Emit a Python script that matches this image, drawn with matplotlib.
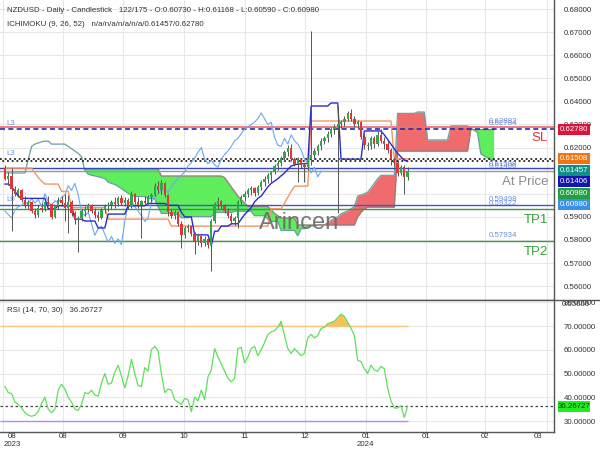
import matplotlib.pyplot as plt
import numpy as np
from matplotlib.patches import Rectangle
from matplotlib.lines import Line2D
from matplotlib.transforms import blended_transform_factory

plt.rcParams['font.family'] = ['Liberation Sans', 'DejaVu Sans']

# NZDUSD daily candles, bar 0 .. 121 (early Aug 2023 -> mid Jan 2024)
opens = [
    0.6110, 0.6065, 0.6075, 0.6020, 0.6000, 0.6015, 0.5975, 0.5950, 0.5965, 0.5925,
    0.5910, 0.5940, 0.5935, 0.5965, 0.5955, 0.5900, 0.5945, 0.5975, 0.5960, 0.5940,
    0.5965, 0.5915, 0.5885, 0.5895, 0.5925, 0.5935, 0.5950, 0.5925, 0.5910, 0.5895,
    0.5930, 0.5945, 0.5950, 0.5965, 0.5955, 0.5980, 0.5960, 0.5975, 0.5945, 0.6000,
    0.5965, 0.5950, 0.5970, 0.5960, 0.5985, 0.5995, 0.6035, 0.6015, 0.6045, 0.5995,
    0.5920, 0.5905, 0.5920, 0.5870, 0.5820, 0.5850, 0.5860, 0.5825, 0.5790, 0.5815,
    0.5785, 0.5805, 0.5780, 0.5880, 0.5955, 0.5970, 0.5945, 0.5925, 0.5905, 0.5880,
    0.5895, 0.5965, 0.5985, 0.6000, 0.6015, 0.6025, 0.6005, 0.6030, 0.6050, 0.6065,
    0.6080, 0.6095, 0.6120, 0.6135, 0.6155, 0.6180, 0.6200, 0.6150, 0.6130, 0.6145,
    0.6125, 0.6115, 0.6150, 0.6170, 0.6185, 0.6205, 0.6230, 0.6240, 0.6260, 0.6280,
    0.6290, 0.6300, 0.6310, 0.6325, 0.6350, 0.6325, 0.6300, 0.6310, 0.6245, 0.6210,
    0.6205, 0.6240, 0.6215, 0.6255, 0.6230, 0.6215, 0.6190, 0.6150, 0.6135, 0.6090,
    0.6115, 0.6073,
]
highs = [
    0.6125, 0.6095, 0.6110, 0.6035, 0.6025, 0.6020, 0.5990, 0.5975, 0.5970, 0.5940,
    0.5950, 0.5960, 0.5975, 0.5990, 0.5960, 0.5950, 0.5985, 0.5990, 0.6000, 0.5995,
    0.5975, 0.5925, 0.5905, 0.5935, 0.5945, 0.5960, 0.5955, 0.5940, 0.5925, 0.5940,
    0.5955, 0.5965, 0.5975, 0.5985, 0.5990, 0.5995, 0.5985, 0.5980, 0.6010, 0.6005,
    0.5985, 0.5975, 0.5990, 0.5995, 0.6005, 0.6045, 0.6055, 0.6060, 0.6050, 0.6000,
    0.5935, 0.5930, 0.5925, 0.5880, 0.5860, 0.5870, 0.5865, 0.5835, 0.5825, 0.5820,
    0.5815, 0.5810, 0.5890, 0.5965, 0.5985, 0.5975, 0.5955, 0.5940, 0.5915, 0.5905,
    0.5975, 0.5995, 0.6010, 0.6025, 0.6035, 0.6030, 0.6040, 0.6060, 0.6075, 0.6090,
    0.6100, 0.6130, 0.6145, 0.6165, 0.6190, 0.6210, 0.6215, 0.6160, 0.6160, 0.6155,
    0.6135, 0.6160, 0.6705, 0.6200, 0.6215, 0.6240, 0.6250, 0.6270, 0.6290, 0.6300,
    0.6380, 0.6320, 0.6335, 0.6360, 0.6367, 0.6335, 0.6320, 0.6315, 0.6260, 0.6225,
    0.6250, 0.6250, 0.6270, 0.6281, 0.6245, 0.6230, 0.6200, 0.6160, 0.6145, 0.6125,
    0.6125, 0.6117,
]
lows = [
    0.6060, 0.6040, 0.5840, 0.5990, 0.5985, 0.5965, 0.5940, 0.5935, 0.5915, 0.5895,
    0.5900, 0.5920, 0.5925, 0.5945, 0.5890, 0.5895, 0.5935, 0.5950, 0.5880, 0.5830,
    0.5905, 0.5870, 0.5750, 0.5880, 0.5905, 0.5920, 0.5915, 0.5895, 0.5880, 0.5890,
    0.5915, 0.5925, 0.5935, 0.5940, 0.5945, 0.5950, 0.5945, 0.5935, 0.5940, 0.5955,
    0.5940, 0.5810, 0.5955, 0.5955, 0.5965, 0.5990, 0.6005, 0.6000, 0.5985, 0.5905,
    0.5895, 0.5890, 0.5860, 0.5765, 0.5810, 0.5835, 0.5815, 0.5740, 0.5780, 0.5770,
    0.5775, 0.5765, 0.5665, 0.5875, 0.5935, 0.5935, 0.5915, 0.5895, 0.5870, 0.5865,
    0.5851, 0.5955, 0.5970, 0.5985, 0.5995, 0.5990, 0.5995, 0.6015, 0.6035, 0.6045,
    0.6050, 0.6085, 0.6105, 0.6120, 0.6140, 0.6165, 0.6140, 0.6120, 0.6050, 0.6110,
    0.6050, 0.6105, 0.6125, 0.6150, 0.6170, 0.6190, 0.6215, 0.6225, 0.6245, 0.6260,
    0.5917, 0.6285, 0.6295, 0.6315, 0.6315, 0.6290, 0.6285, 0.6235, 0.6195, 0.6190,
    0.6195, 0.6200, 0.6205, 0.6220, 0.6195, 0.6175, 0.6125, 0.6120, 0.6075, 0.6080,
    0.6000, 0.6059,
]
closes = [
    0.6065, 0.6075, 0.6020, 0.6000, 0.6015, 0.5975, 0.5950, 0.5965, 0.5925, 0.5910,
    0.5940, 0.5935, 0.5965, 0.5955, 0.5900, 0.5945, 0.5975, 0.5960, 0.5940, 0.5965,
    0.5915, 0.5885, 0.5895, 0.5925, 0.5935, 0.5950, 0.5925, 0.5910, 0.5895, 0.5930,
    0.5945, 0.5950, 0.5965, 0.5955, 0.5980, 0.5960, 0.5975, 0.5945, 0.6000, 0.5965,
    0.5950, 0.5970, 0.5960, 0.5985, 0.5995, 0.6035, 0.6015, 0.6045, 0.5995, 0.5920,
    0.5905, 0.5920, 0.5870, 0.5820, 0.5850, 0.5860, 0.5825, 0.5790, 0.5815, 0.5785,
    0.5805, 0.5780, 0.5880, 0.5955, 0.5970, 0.5945, 0.5925, 0.5905, 0.5880, 0.5895,
    0.5965, 0.5985, 0.6000, 0.6015, 0.6025, 0.6005, 0.6030, 0.6050, 0.6065, 0.6080,
    0.6095, 0.6120, 0.6135, 0.6155, 0.6180, 0.6200, 0.6150, 0.6130, 0.6145, 0.6125,
    0.6115, 0.6150, 0.6170, 0.6185, 0.6205, 0.6230, 0.6240, 0.6260, 0.6280, 0.6290,
    0.6300, 0.6310, 0.6325, 0.6350, 0.6325, 0.6300, 0.6310, 0.6245, 0.6210, 0.6205,
    0.6240, 0.6215, 0.6255, 0.6230, 0.6215, 0.6190, 0.6150, 0.6135, 0.6090, 0.6115,
    0.6073, 0.6098,
]

# Ichimoku (9, 26, 52) as drawn on the chart
tenkan = [
    0.6042, 0.6042, 0.6030, 0.6010, 0.5990, 0.5980, 0.5980, 0.5980, 0.5980, 0.5980,
    0.5980, 0.5980, 0.5980, 0.5935, 0.5935, 0.5935, 0.5948, 0.5948, 0.5948, 0.5948,
    0.5948, 0.5890, 0.5890, 0.5890, 0.5882, 0.5882, 0.5882, 0.5882, 0.5852, 0.5852,
    0.5852, 0.5912, 0.5912, 0.5912, 0.5912, 0.5912, 0.5912, 0.5948, 0.5948, 0.5948,
    0.5948, 0.5948, 0.5948, 0.5958, 0.5958, 0.5958, 0.5958, 0.5958, 0.5958, 0.5950,
    0.5950, 0.5950, 0.5950, 0.5920, 0.5900, 0.5900, 0.5900, 0.5822, 0.5822, 0.5822,
    0.5822, 0.5822, 0.5775, 0.5838, 0.5838, 0.5860, 0.5860, 0.5860, 0.5870, 0.5870,
    0.5870, 0.5890, 0.5910, 0.5925, 0.5940, 0.5965, 0.5980, 0.5990, 0.6010, 0.6030,
    0.6045, 0.6055, 0.6065, 0.6078, 0.6090, 0.6105, 0.6120, 0.6125, 0.6128, 0.6130,
    0.6130, 0.6132, 0.6380, 0.6380, 0.6380, 0.6380, 0.6380, 0.6380, 0.6393, 0.6393,
    0.6393, 0.6150, 0.6150, 0.6150, 0.6150, 0.6150, 0.6150, 0.6150, 0.6272, 0.6272,
    0.6272, 0.6272, 0.6272, 0.6272, 0.6255, 0.6235, 0.6215, 0.6195, 0.6175, 0.6160,
    0.6145, 0.61406,
]
kijun = [
    0.6111, 0.6111, 0.6111, 0.6111, 0.6111, 0.6111, 0.6111, 0.6111, 0.6111, 0.6090,
    0.6070, 0.6055, 0.6042, 0.6042, 0.6042, 0.6042, 0.6042, 0.6010, 0.6010, 0.6010,
    0.5940, 0.5940, 0.5940, 0.5940, 0.5940, 0.5940, 0.5940, 0.5940, 0.5940, 0.5940,
    0.5940, 0.5890, 0.5890, 0.5890, 0.5890, 0.5890, 0.5890, 0.5890, 0.5890, 0.5890,
    0.5890, 0.5890, 0.5890, 0.5890, 0.5890, 0.5890, 0.5890, 0.5890, 0.5890, 0.5890,
    0.5860, 0.5860, 0.5860, 0.5860, 0.5860, 0.5860, 0.5860, 0.5860, 0.5860, 0.5860,
    0.5860, 0.5860, 0.5860, 0.5860, 0.5860, 0.5860, 0.5860, 0.5860, 0.5860, 0.5860,
    0.5860, 0.5860, 0.5860, 0.5860, 0.5860, 0.5860, 0.5860, 0.5860, 0.5860, 0.5860,
    0.5935, 0.5935, 0.5935, 0.5935, 0.5960, 0.5985, 0.6010, 0.6033, 0.6033, 0.6033,
    0.6033, 0.6033, 0.6315, 0.6315, 0.6315, 0.6315, 0.6315, 0.6315, 0.6315, 0.6315,
    0.6315, 0.6315, 0.6315, 0.6315, 0.6315, 0.6315, 0.6315, 0.6315, 0.6315, 0.6315,
    0.6315, 0.6315, 0.6315, 0.6315, 0.6315, 0.6315, 0.6315, 0.6151, 0.6151, 0.6151,
    0.6151, 0.61508,
]
# leading spans run 26 bars past the last candle (bars 0 .. 147)
senkou_a = [
    0.6090, 0.6090, 0.6090, 0.6090, 0.6090, 0.6090, 0.6090, 0.6150, 0.6205, 0.6215,
    0.6220, 0.6225, 0.6228, 0.6228, 0.6215, 0.6215, 0.6215, 0.6215, 0.6215, 0.6205,
    0.6195, 0.6185, 0.6175, 0.6160, 0.6100, 0.6085, 0.6080, 0.6077, 0.6074, 0.6070,
    0.6066, 0.6050, 0.6045, 0.6040, 0.6032, 0.6022, 0.6012, 0.6002, 0.5995, 0.5988,
    0.5988, 0.5988, 0.5988, 0.5979, 0.5979, 0.5979, 0.5944, 0.5915, 0.5915, 0.5915,
    0.5915, 0.5911, 0.5911, 0.5896, 0.5896, 0.5896, 0.5901, 0.5901, 0.5901, 0.5901,
    0.5901, 0.5901, 0.5901, 0.5919, 0.5919, 0.5919, 0.5919, 0.5919, 0.5919, 0.5924,
    0.5924, 0.5924, 0.5924, 0.5924, 0.5924, 0.5905, 0.5905, 0.5905, 0.5905, 0.5890,
    0.5880, 0.5880, 0.5880, 0.5841, 0.5841, 0.5841, 0.5841, 0.5841, 0.5818, 0.5849,
    0.5849, 0.5860, 0.5860, 0.5860, 0.5865, 0.5865, 0.5865, 0.5875, 0.5885, 0.5893,
    0.5900, 0.5913, 0.5920, 0.5925, 0.5935, 0.5945, 0.5990, 0.5995, 0.6000, 0.6007,
    0.6025, 0.6045, 0.6065, 0.6080, 0.6080, 0.6080, 0.6080, 0.6080, 0.6348, 0.6348,
    0.6348, 0.6348, 0.6348, 0.6348, 0.6354, 0.6354, 0.6354, 0.6233, 0.6233, 0.6233,
    0.6233, 0.6233, 0.6233, 0.6233, 0.6294, 0.6294, 0.6294, 0.6294, 0.6294, 0.6294,
    0.6285, 0.6275, 0.6265, 0.6173, 0.6163, 0.6156, 0.6148, 0.61457,
]
senkou_b_start = 24
senkou_b = [
    0.6108, 0.6108, 0.6108, 0.6108, 0.6108, 0.6108, 0.6108, 0.6108, 0.6108, 0.6108,
    0.6108, 0.6108, 0.6108, 0.6108, 0.6108, 0.6108, 0.6108, 0.6108, 0.6108, 0.6108,
    0.6108, 0.6108, 0.6108, 0.6077, 0.6077, 0.6077, 0.6077, 0.6077, 0.6077, 0.6077,
    0.6077, 0.6077, 0.6077, 0.6077, 0.6077, 0.6077, 0.6077, 0.6077, 0.6077, 0.6077,
    0.6077, 0.6077, 0.6070, 0.6050, 0.6030, 0.6010, 0.5990, 0.5975, 0.5960, 0.5945,
    0.5945, 0.5945, 0.5945, 0.5945, 0.5945, 0.5945, 0.5930, 0.5915, 0.5905, 0.5895,
    0.5895, 0.5895, 0.5895, 0.5895, 0.5865, 0.5865, 0.5865, 0.5865, 0.5865, 0.5865,
    0.5865, 0.5865, 0.5865, 0.5865, 0.5865, 0.5865, 0.5865, 0.5865, 0.5865, 0.5865,
    0.5865, 0.5865, 0.5900, 0.5920, 0.5935, 0.5942, 0.5942, 0.5942, 0.5942, 0.5942,
    0.5942, 0.5942, 0.5942, 0.5942, 0.6185, 0.6185, 0.6185, 0.6185, 0.6185, 0.6185,
    0.6185, 0.6185, 0.6185, 0.6185, 0.6185, 0.6185, 0.6185, 0.6185, 0.6185, 0.6185,
    0.6185, 0.6185, 0.6185, 0.6185, 0.6185, 0.6185, 0.6278, 0.6278, 0.6278, 0.6278,
    0.6278, 0.6278, 0.6278, 0.6278,
]
chikou_shift = 26

# RSI (14, 70, 30)
rsi = [
    44.5, 42.0, 41.5, 38.0, 37.0, 35.5, 33.5, 32.5, 32.0, 32.5,
    34.0, 37.5, 40.0, 35.0, 33.5, 35.0, 43.0, 45.5, 43.5, 40.0,
    38.0, 35.0, 34.5, 37.0, 42.0, 41.5, 43.0, 41.0, 40.5, 46.0,
    50.0, 45.5, 46.0, 50.5, 53.5, 49.0, 44.0, 49.0, 56.0, 50.0,
    45.0, 44.5, 52.5, 51.0, 60.0, 61.5, 59.5, 50.0, 42.0, 43.5,
    43.0, 39.0, 38.0, 37.0, 39.5, 39.0, 34.0, 40.0, 38.5, 43.0,
    39.0, 48.5, 51.5, 60.5, 57.0, 54.0, 51.0, 48.0, 46.5, 48.0,
    60.5, 61.0, 54.5, 57.0, 60.5, 61.5, 57.5, 60.0, 63.0, 66.5,
    67.5, 68.0, 69.5, 72.0, 66.0, 60.5, 58.5, 60.5, 59.0, 57.5,
    58.5, 65.0, 66.5, 65.0, 66.0, 69.0, 69.5, 71.0, 71.5, 72.0,
    73.5, 75.0, 74.0, 71.5, 69.0, 66.0, 55.5, 55.0, 52.0, 50.0,
    53.5, 51.5, 51.0, 53.0, 52.0, 44.0, 38.5, 35.5, 35.5, 36.5,
    31.5, 36.26727,
]
rsi_upper, rsi_lower = 70, 30
rsi_last = 36.26727

# horizontal trade levels
sl_level = 0.62882
l3_level = 0.62784
kijun_last, tenkan_last = 0.61508, 0.61406
l2_level = 0.6110
price_last = 0.60980
l0_level = 0.59498
tp1_level = 0.59322
tp2_level = 0.57934

box_values = [0.62780, 0.61508, 0.61457, 0.61406, 0.60980, 0.60980]
box_colors = ['#dc143c', '#ef7412', '#0f8f88', '#1414b4', '#22a045', '#3c8fe6']

tick_pos = [-0.6, 17.4, 35.4, 53.8, 72.1, 90.1, 108.4, 126.4, 144.4, 162.8]
tick_text = ['08', '08', '09', '10', '11', '12', '01', '01', '02', '03']
label_pos = [2.1, 17.4, 35.4, 53.8, 72.1, 90.1, 108.4, 126.4, 144.4, 160.1]
year_text = {0: '2023', 6: '2024'}

W, H = 600, 450
fig = plt.figure(figsize=(6, 4.5), dpi=100)
ax = fig.add_axes([0, 150 / H, 554 / W, 300 / H])
ax_rsi = fig.add_axes([0, 18 / H, 554 / W, 132 / H])

fs = 5.7
grid_col = '#e8e8e8'
txt_col = '#333333'

for a in (ax, ax_rsi):
    a.set_xlim(-1.5, 165)
    a.set_xticks(tick_pos)
    a.tick_params(axis='x', length=0, labelbottom=False)
    a.yaxis.tick_right()
    a.tick_params(axis='y', length=0, pad=7, labelsize=fs, labelcolor=txt_col)
    a.grid(color=grid_col, lw=0.8)
    a.set_axisbelow(True)
    for s in ('top', 'left'):
        a.spines[s].set_visible(False)
    for s in ('right', 'bottom'):
        a.spines[s].set_color('#555555')
        a.spines[s].set_linewidth(1.0)

ax.set_ylim(0.5540, 0.6839)
yt = np.round(np.arange(0.56, 0.6801, 0.01), 2)
ax.set_yticks(yt)
# 0.61 and 0.60 sit under the value boxes, so their labels are not shown
ax.set_yticklabels(['' if v in (0.60, 0.61) else f'{v:.5f}' for v in yt])

ax_rsi.set_ylim(25.4, 80.95)
rt = [30, 40, 50, 60, 70, 80]
ax_rsi.set_yticks(rt)
ax_rsi.set_yticklabels([f'{v:.5f}' for v in rt])

x = np.arange(len(closes))
o, h, l, c = (np.array(v) for v in (opens, highs, lows, closes))
xa = np.arange(len(senkou_a))
sa = np.array(senkou_a)
xb = np.arange(senkou_b_start, senkou_b_start + len(senkou_b))
sb = np.array(senkou_b)
sa_b = sa[senkou_b_start:]

# cloud
ax.fill_between(xb, sa_b, sb, where=sa_b <= sb, interpolate=True,
                color='#5ded5d', lw=0, zorder=1)
ax.fill_between(xb, sa_b, sb, where=sa_b > sb, interpolate=True,
                color='#f06c6c', lw=0, zorder=1)
ax.plot(xa, sa, color='#6a9ea2', lw=0.9, zorder=1.5)
ax.plot(xb, sb, color='#9c7a70', lw=0.9, zorder=1.5)

# levels
ax.axhline(sl_level, color='#f07070', lw=1.3, zorder=2)
ax.axhline(l3_level, color='#1f2db4', lw=1.2, ls=(0, (3, 2)), zorder=2)
ax.axhline(kijun_last, color='#222222', lw=1.3, ls=(0, (1, 1.6)), zorder=2)
ax.axhline(tenkan_last, color='#222222', lw=1.3, ls=(1.3, (1, 1.6)), zorder=2)
ax.axhline(l2_level, color='#3545c8', lw=1.0, zorder=2)
ax.axhline(price_last, color='#9a9a9a', lw=1.0, zorder=2)
ax.axhline(l0_level, color='#4454d0', lw=1.0, zorder=2)
ax.axhline(tp1_level, color='#3c9a3c', lw=1.0, zorder=2)
ax.axhline(tp2_level, color='#3c9a3c', lw=1.0, zorder=2)

# ichimoku lines
ax.plot(x[chikou_shift:] - chikou_shift, c[chikou_shift:], color='#6aa8f0', lw=0.8, zorder=2.5)
ax.plot(x, kijun, color='#f29662', lw=1.0, zorder=2.6)
ax.plot(x, tenkan, color='#2a2ad2', lw=1.0, zorder=2.7)

# candles
up = c >= o
ax.vlines(x, l, h, color='#555555', lw=0.7, zorder=3)
body = np.maximum(np.abs(c - o), 0.00012)
ax.bar(x, body, bottom=np.minimum(o, c), width=0.7,
       color=np.where(up, '#2ea84a', '#e3343c'), lw=0, zorder=3.5)

# level annotations
bt = blended_transform_factory(ax.transAxes, ax.transData)
lab_col = '#6f8fe0'
for v in (sl_level, l3_level, l0_level, tp1_level, tp2_level):
    ax.annotate(f'{v:.5f}', (489 / 554, v), xycoords=bt, xytext=(0, 1.5),
                textcoords='offset points', fontsize=fs, color=lab_col, va='bottom')
for v in (kijun_last, tenkan_last):
    ax.annotate(f'{v:.5f}', (489 / 554, v), xycoords=bt, xytext=(0, -1.5),
                textcoords='offset points', fontsize=fs, color=lab_col, va='top')
for v, t in ((l3_level, 'L3'), (kijun_last, 'L3'), (l0_level, 'L0')):
    ax.annotate(t, (6 / 554, v), xycoords=bt, xytext=(0, 1.5),
                textcoords='offset points', fontsize=fs, color=lab_col, va='bottom')

for v, t, col in ((sl_level, 'SL', '#e03535'), (price_last, 'At Price', '#8c8c8c'),
                  (tp1_level, 'TP1', '#35a035'), (tp2_level, 'TP2', '#35a035')):
    ax.annotate(t, (548 / 554, v), xycoords=bt, xytext=(0, -3.5),
                textcoords='offset points', fontsize=9.5, color=col,
                ha='right', va='top', zorder=6)

ax.text(0.54, 0.257, 'Arincen', transform=ax.transAxes, fontsize=17,
        color='#6a6a6a', alpha=0.9, ha='center', va='center', zorder=6)

ax.text(7 / 554, 1 - 10 / 300,
        'NZDUSD - Daily - Candlestick   122/175 - O:0.60730 - H:0.61168 - L:0.60590 - C:0.60980',
        transform=ax.transAxes, fontsize=fs, color=txt_col, va='center')
ax.text(7 / 554, 1 - 25 / 300, 'ICHIMOKU (9, 26, 52)   n/a/n/a/n/a/n/a/0.61457/0.62780',
        transform=ax.transAxes, fontsize=fs, color=txt_col, va='center')

# RSI panel
r = np.array(rsi)
xr0 = ax_rsi.get_xlim()[0]
ax_rsi.hlines(rsi_upper, xr0, x[-1], color='#f5c77e', lw=1.0, zorder=2)
ax_rsi.hlines(rsi_lower, xr0, x[-1], color='#b48cf2', lw=1.0, zorder=2)
ax_rsi.fill_between(x, rsi_upper, r, where=r > rsi_upper, interpolate=True,
                    color='#f5c25c', lw=0, zorder=2)
ax_rsi.axhline(rsi_last, color='#444444', lw=0.9, ls=(0, (2, 2)), zorder=2)
ax_rsi.plot(x, r, color='#5fe05a', lw=0.9, zorder=3)
ax_rsi.text(7 / 554, (432 - 311) / 132, 'RSI (14, 70, 30)   36.26727',
            transform=ax_rsi.transAxes, fontsize=fs, color=txt_col, va='center')

bx = blended_transform_factory(ax_rsi.transData, ax_rsi.transAxes)
for i, (p, t) in enumerate(zip(label_pos, tick_text)):
    ax_rsi.text(p, -5 / 132, t, transform=bx, fontsize=fs, color=txt_col,
                ha='center', va='center')
    if i in year_text:
        ax_rsi.text(p, -13 / 132, year_text[i], transform=bx, fontsize=fs,
                    color=txt_col, ha='center', va='center')

# panel separator across the full width and the clipped 0.55 label
fig.add_artist(Line2D([0, 1], [150 / H, 150 / H], transform=fig.transFigure,
                      color='#555555', lw=1.0))
fig.text(562 / W, (H - 304) / H, '0.55000', fontsize=fs, color=txt_col, va='center')

# right-hand value boxes, stacked so they do not overlap
prev = None
for v, col in zip(box_values, box_colors):
    yd = ax.transData.transform((0, v))[1]
    if prev is not None and yd > prev - 11.4:
        yd = prev - 11.4
    prev = yd
    fig.add_artist(Rectangle((558 / W, (yd - 5.5) / H), 32 / W, 11 / H,
                             transform=fig.transFigure, facecolor=col,
                             edgecolor='none', zorder=5))
    fig.text(574 / W, yd / H, f'{v:.5f}', color='white', fontsize=fs,
             ha='center', va='center', zorder=6)

yd = ax_rsi.transData.transform((0, rsi_last))[1]
fig.add_artist(Rectangle((558 / W, (yd - 5.5) / H), 32 / W, 11 / H,
                         transform=fig.transFigure, facecolor='#1ef01e',
                         edgecolor='none', zorder=5))
fig.text(574 / W, yd / H, f'{rsi_last:.5f}', color='#222222', fontsize=fs,
         ha='center', va='center', zorder=6)

fig.savefig('out.png', dpi=100)
